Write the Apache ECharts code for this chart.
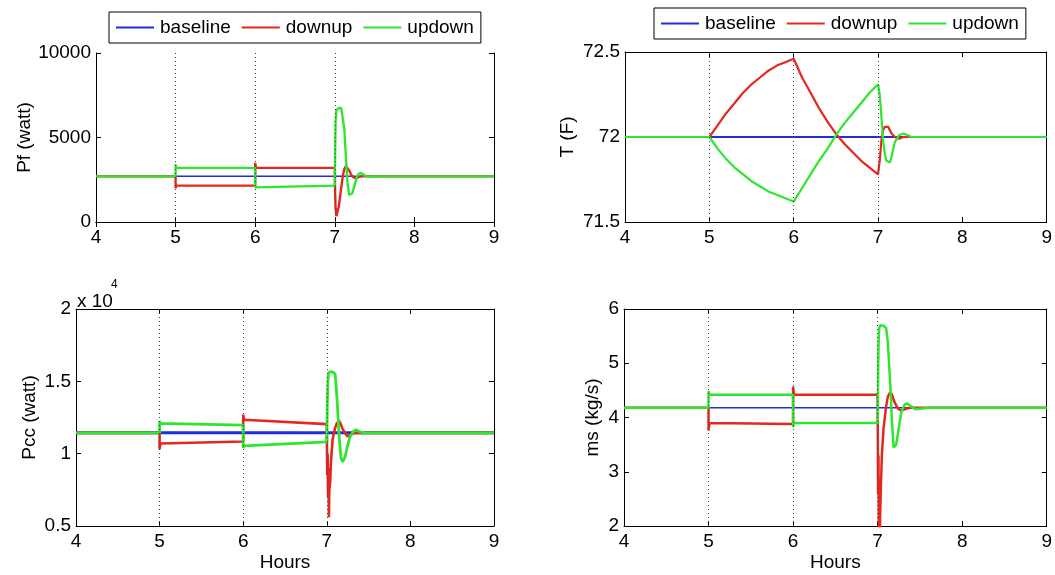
<!DOCTYPE html>
<html>
<head>
<meta charset="utf-8">
<script src="https://cdn.jsdelivr.net/npm/echarts@6/dist/echarts.min.js"></script>
<style>
html,body{margin:0;padding:0;background:#fff;}
#chart{width:1055px;height:575px;}
</style>
</head>
<body>
<div id="chart"></div>
<script>
// ---------- data ----------
const legendNames = ['baseline', 'downup', 'updown'];
const eventHours = [5, 6, 7];

// Pf (watt)
const pfBaselineHours = [4, 9];
const pfBaseline = [2700, 2700];
const pfHours = [4, 5, 5, 5.01, 6, 6, 6.01, 7, 7.005, 7.01, 7.02, 7.03, 7.05, 7.08, 7.1, 7.12, 7.14, 7.16, 7.18, 7.2, 7.22, 7.25, 7.28, 7.3, 7.33, 7.36, 7.4, 7.45, 7.5, 9];
const pfDownup = [2700, 2700, 2000, 2150, 2150, 3500, 3200, 3200, 1500, 800, 350, 300, 900, 2000, 2700, 3150, 3300, 3250, 3050, 2850, 2700, 2600, 2620, 2680, 2700, 2720, 2700, 2700, 2700, 2700];
const pfUpdown = [2700, 2700, 3400, 3200, 3200, 2050, 2150, 2150, 4500, 6000, 6600, 6700, 6750, 6750, 6700, 5500, 3800, 2300, 1600, 1500, 1700, 2200, 2700, 2850, 2900, 2800, 2700, 2680, 2700, 2700];

// T (F)
const tBaselineHours = [4, 9];
const tBaseline = [72, 72];
const tHours = [4, 5, 5.1, 5.2, 5.3, 5.4, 5.5, 5.6, 5.7, 5.8, 5.9, 6, 6.1, 6.2, 6.3, 6.4, 6.5, 6.6, 6.7, 6.8, 6.9, 7, 7.02, 7.04, 7.06, 7.08, 7.1, 7.12, 7.14, 7.16, 7.18, 7.2, 7.25, 7.3, 7.35, 7.4, 7.5, 9];
const tDownup = [72, 72, 72.07, 72.14, 72.2, 72.26, 72.31, 72.35, 72.39, 72.42, 72.44, 72.46, 72.35, 72.26, 72.17, 72.09, 72.02, 71.96, 71.91, 71.86, 71.82, 71.78, 71.86, 71.98, 72.04, 72.06, 72.07, 72.06, 72.04, 72.02, 72.01, 72.0, 71.99, 72.0, 72.0, 72.0, 72.0, 72.0];
const tUpdown = [72, 72, 71.93, 71.87, 71.82, 71.78, 71.74, 71.71, 71.68, 71.66, 71.64, 71.62, 71.7, 71.78, 71.86, 71.93, 72.01, 72.08, 72.14, 72.2, 72.26, 72.31, 72.25, 72.12, 71.98, 71.9, 71.86, 71.85, 71.85, 71.88, 71.93, 71.97, 72.01, 72.02, 72.01, 72.0, 72.0, 72.0];

// Pcc (watt), in units of 10^4
const pccBaselineHours = [4, 9];
const pccBaseline = [1.144, 1.144];
const pccHours = [4, 5, 5, 5.01, 6, 6, 6.01, 7, 7.005, 7.01, 7.015, 7.02, 7.025, 7.03, 7.04, 7.05, 7.07, 7.1, 7.12, 7.15, 7.17, 7.19, 7.22, 7.25, 7.28, 7.32, 7.35, 7.4, 7.45, 7.5, 7.6, 9];
const pccDownup = [1.144, 1.144, 1.03, 1.07, 1.084, 1.27, 1.234, 1.204, 0.85, 1.0, 0.7, 0.9, 0.56, 0.75, 0.8, 0.95, 1.1, 1.18, 1.21, 1.225, 1.2, 1.17, 1.14, 1.12, 1.13, 1.14, 1.145, 1.144, 1.144, 1.144, 1.144, 1.144];
const pccUpdown = [1.144, 1.144, 1.225, 1.21, 1.197, 1.04, 1.054, 1.081, 1.3, 1.45, 1.52, 1.55, 1.56, 1.565, 1.57, 1.57, 1.565, 1.55, 1.4, 1.1, 0.97, 0.943, 0.98, 1.06, 1.12, 1.155, 1.165, 1.15, 1.144, 1.144, 1.144, 1.144];

// ms (kg/s)
const msBaselineHours = [4, 9];
const msBaseline = [4.18, 4.18];
const msHours = [4, 5, 5, 5.01, 6, 6, 6.01, 7, 7.005, 7.01, 7.015, 7.02, 7.025, 7.03, 7.04, 7.05, 7.07, 7.1, 7.12, 7.15, 7.17, 7.19, 7.22, 7.25, 7.28, 7.32, 7.35, 7.4, 7.45, 7.5, 7.6, 9];
const msDownup = [4.18, 4.18, 3.76, 3.9, 3.88, 4.57, 4.42, 4.42, 2.6, 3.3, 1.8, 2.7, 1.5, 2.2, 2.8, 3.3, 3.8, 4.2, 4.38, 4.47, 4.42, 4.32, 4.22, 4.15, 4.13, 4.15, 4.17, 4.18, 4.18, 4.18, 4.18, 4.18];
const msUpdown = [4.18, 4.18, 4.49, 4.42, 4.42, 3.82, 3.9, 3.9, 4.6, 5.3, 5.55, 5.65, 5.68, 5.7, 5.7, 5.7, 5.69, 5.65, 5.4, 4.6, 3.9, 3.45, 3.5, 3.8, 4.1, 4.24, 4.26, 4.2, 4.15, 4.16, 4.18, 4.18];

// y axis ranges and labels
const yRanges = [
  {name: 'Pf (watt)', min: 0, max: 10000, interval: 5000},
  {name: 'T (F)', min: 71.5, max: 72.5, interval: 0.5},
  {name: 'Pcc (watt)', min: 0.5, max: 2, interval: 0.5},
  {name: 'ms (kg/s)', min: 2, max: 6, interval: 1}
];
const xAxisName = 'Hours';
const scaleNote = 'x 10';
const scaleExp = '4';

// ---------- chart ----------
const FONT = '"Liberation Sans", Arial, Helvetica, sans-serif';
const FS = 19;
const COLORS = {baseline: '#1f2ed8', downup: '#e5281f', updown: '#2ee62e'};
const pair = (h, v) => h.map((x, i) => [x, v[i]]);

const panels = [
  {grid: {left: 96, top: 53, width: 398, height: 169}, nameGap: 61, xName: false,
   widths: [1.5, 2.4, 2.4],
   series: [pair(pfBaselineHours, pfBaseline), pair(pfHours, pfDownup), pair(pfHours, pfUpdown)]},
  {grid: {left: 625, top: 52, width: 427, height: 170}, nameGap: 48, xName: false,
   widths: [1.8, 2.2, 2.2],
   series: [pair(tBaselineHours, tBaseline), pair(tHours, tDownup), pair(tHours, tUpdown)]},
  {grid: {left: 76, top: 309, width: 418, height: 217}, nameGap: 37, xName: true,
   widths: [3, 2.6, 2.8],
   series: [pair(pccBaselineHours, pccBaseline), pair(pccHours, pccDownup), pair(pccHours, pccUpdown)]},
  {grid: {left: 624, top: 309, width: 428, height: 217}, nameGap: 22, xName: true,
   widths: [1.5, 2.5, 2.5],
   series: [pair(msBaselineHours, msBaseline), pair(msHours, msDownup), pair(msHours, msUpdown)]}
];

const grid = [], xAxis = [], yAxis = [], series = [];
const tickStyle = {inside: true, length: 5, lineStyle: {color: '#000', width: 1}};
const lineStyleAx = {lineStyle: {color: '#000', width: 1}};

panels.forEach((p, i) => {
  grid.push(Object.assign({containLabel: false}, p.grid));
  const yr = yRanges[i];
  xAxis.push({
    gridIndex: i, type: 'value', min: 4, max: 9, interval: 1, position: 'bottom',
    axisLine: lineStyleAx, axisTick: tickStyle, splitLine: {show: false},
    axisLabel: {color: '#000', fontSize: FS, fontFamily: FONT, margin: 6, formatter: v => String(v)},
    name: p.xName ? xAxisName : '', nameLocation: 'middle', nameGap: 27,
    nameTextStyle: {color: '#000', fontSize: FS, fontFamily: FONT}
  });
  xAxis.push({
    gridIndex: i, type: 'value', min: 4, max: 9, interval: 1, position: 'top',
    axisLine: lineStyleAx, axisTick: tickStyle, splitLine: {show: false},
    axisLabel: {show: false}
  });
  yAxis.push({
    gridIndex: i, type: 'value', min: yr.min, max: yr.max, interval: yr.interval, position: 'left',
    axisLine: Object.assign({onZero: false}, lineStyleAx), axisTick: tickStyle, splitLine: {show: false},
    axisLabel: {color: '#000', fontSize: FS, fontFamily: FONT, margin: 5, formatter: v => String(+v.toFixed(2))},
    name: yr.name, nameLocation: 'middle', nameGap: p.nameGap, nameRotate: 90,
    nameTextStyle: {color: '#000', fontSize: FS, fontFamily: FONT}
  });
  yAxis.push({
    gridIndex: i, type: 'value', min: yr.min, max: yr.max, interval: yr.interval, position: 'right',
    axisLine: Object.assign({onZero: false}, lineStyleAx), axisTick: tickStyle, splitLine: {show: false},
    axisLabel: {show: false}
  });
  legendNames.forEach((nm, k) => {
    const s = {
      name: nm, type: 'line', xAxisIndex: 2 * i, yAxisIndex: 2 * i,
      data: p.series[k], symbol: 'none', showSymbol: false, clip: true,
      lineStyle: {color: COLORS[nm], width: p.widths[k]},
      itemStyle: {color: COLORS[nm]},
      animation: false, silent: true
    };
    if (k === 0) {
      s.markLine = {
        silent: true, symbol: ['none', 'none'], animation: false,
        label: {show: false},
        lineStyle: {color: '#444', type: [1, 3], width: 1},
        data: eventHours.map(h => ({xAxis: h}))
      };
    }
    series.push(s);
  });
});

const legendBase = {
  data: legendNames.map(n => ({name: n, icon: 'rect', itemStyle: {color: COLORS[n]}})),
  orient: 'horizontal', selectedMode: false,
  backgroundColor: '#fff', borderColor: '#000', borderWidth: 1,
  padding: [6, 7], itemWidth: 38, itemHeight: 2, itemGap: 11,
  textStyle: {color: '#000', fontSize: FS, fontFamily: FONT, padding: [0, 0, 0, 1]}
};

const option = {
  backgroundColor: '#fff',
  animation: false,
  grid, xAxis, yAxis, series,
  legend: [
    Object.assign({left: 109, top: 12}, legendBase),
    Object.assign({left: 654, top: 8}, legendBase)
  ],
  graphic: [
    {type: 'text', left: 77, top: 292, silent: true,
     style: {text: scaleNote, fill: '#000', font: FS + 'px ' + FONT}},
    {type: 'text', left: 111, top: 279, silent: true,
     style: {text: scaleExp, fill: '#000', font: '12px ' + FONT}}
  ]
};

const chart = echarts.init(document.getElementById('chart'), null, {renderer: 'canvas'});
chart.setOption(option);
</script>
</body>
</html>
